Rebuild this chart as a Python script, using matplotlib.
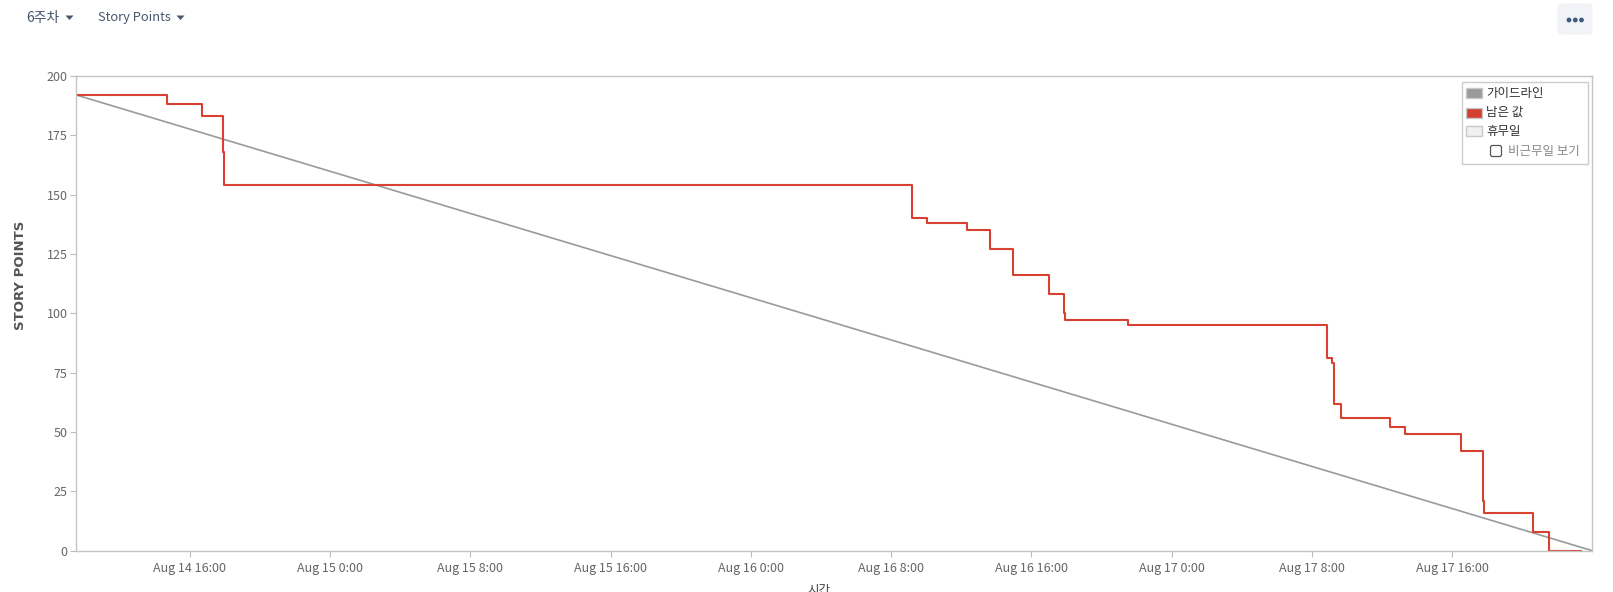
import matplotlib
matplotlib.use('Agg')
import pandas as pd
import matplotlib.pyplot as plt
from matplotlib.patches import Rectangle, FancyBboxPatch, Polygon, Circle
from matplotlib.transforms import IdentityTransform

plt.rcParams['font.family'] = ['Noto Sans CJK KR', 'DejaVu Sans']

W, H = 1613, 592

# remaining story points - value changes (step, post)
remaining_times = [
    '2023-08-14 09:30', '2023-08-14 14:43', '2023-08-14 16:41', '2023-08-14 17:52',
    '2023-08-14 17:55', '2023-08-14 17:58', '2023-08-16 09:10', '2023-08-16 09:13',
    '2023-08-16 10:02', '2023-08-16 12:19', '2023-08-16 13:38', '2023-08-16 14:56',
    '2023-08-16 14:58', '2023-08-16 17:01', '2023-08-16 17:52', '2023-08-16 17:55',
    '2023-08-16 21:32', '2023-08-17 08:53', '2023-08-17 09:10', '2023-08-17 09:17',
    '2023-08-17 09:41', '2023-08-17 12:27', '2023-08-17 13:20', '2023-08-17 16:30',
    '2023-08-17 17:45', '2023-08-17 17:49', '2023-08-17 20:37', '2023-08-17 21:31',
    '2023-08-17 23:23',
]
remaining_values = [
    192, 188, 183, 168,
    160, 154, 148, 140,
    138, 135, 127, 124,
    116, 108, 100, 97,
    95, 81, 79, 62,
    56, 52, 49, 42,
    21, 16, 8, 0,
    0,
]

# guideline from sprint start to sprint end
guide_times = ['2023-08-14 09:30', '2023-08-18 00:00']
guide_values = [192, 0]

y_ticks = [0, 25, 50, 75, 100, 125, 150, 175, 200]
x_ticks = pd.date_range('2023-08-14 16:00', '2023-08-17 16:00', freq='8h')

legend_labels = ['가이드라인', '남은 값', '휴무일']
legend_colors = ['#9a9a9a', '#d43f2f', '#f0f0f0']

RED = '#d8412f'
GRAY = '#9a9a9a'


def fx(x):
    return x / W


def fy(y):
    return 1 - y / H


fig = plt.figure(figsize=(W / 100, H / 100), dpi=100)
ax = fig.add_axes([fx(76), fy(550.7), fx(1592.3) - fx(76), fy(75.9) - fy(550.7)])

ax.plot(pd.to_datetime(guide_times), guide_values, color=GRAY, lw=1.2, solid_capstyle='butt')
ax.plot(pd.to_datetime(remaining_times), remaining_values, color=RED, lw=1.5,
        drawstyle='steps-post')

ax.set_xlim(pd.Timestamp(guide_times[0]), pd.Timestamp(guide_times[-1]))
ax.set_ylim(0, 200)
ax.set_yticks(y_ticks)
ax.set_xticks(x_ticks)
ax.set_xticklabels([f"{t:%b} {t.day} {t.hour}:{t:%M}" for t in x_ticks])

for s in ax.spines.values():
    s.set_color('#c4c4c4')
    s.set_linewidth(1)
ax.tick_params(axis='x', colors='#bbbbbb', labelcolor='#666666', labelsize=9, length=4, pad=4)
ax.tick_params(axis='y', colors='#bbbbbb', labelcolor='#666666', labelsize=9, length=4, pad=2)

# axis titles
fig.text(fx(21), fy(275), 'STORY POINTS', rotation=90, ha='center', va='center',
         fontsize=9.5, fontweight='bold', color='#555555', family='DejaVu Sans')
fig.text(fx(819), fy(584), '시간', ha='center', va='top', fontsize=9, color='#444444')

# legend drawn by hand in pixel space
idt = IdentityTransform()


def rect(x0, y0, x1, y1, **kw):
    r = Rectangle((x0, H - y1), x1 - x0, y1 - y0, transform=idt, **kw)
    fig.add_artist(r)


rect(1462, 82, 1588, 164, facecolor='white', edgecolor='#cccccc', lw=1)
row_y = [93.3, 112.5, 131]
for lab, col, cy in zip(legend_labels, legend_colors, row_y):
    rect(1466, cy - 5, 1482, cy + 5, facecolor=col, edgecolor='#c8c8c8', lw=1)
    fig.text(fx(1486), fy(cy), lab, ha='left', va='center', fontsize=9, color='#333333')

fig.add_artist(FancyBboxPatch((1490.5, H - 156.5), 11, 11, boxstyle='round,pad=0,rounding_size=2',
                              transform=idt, facecolor='white', edgecolor='#555555', lw=0.9))
fig.text(fx(1508), fy(151), '비근무일 보기', ha='left', va='center', fontsize=9, color='#888888')

# header dropdowns
HEAD = '#46566b'
fig.text(fx(26), fy(18), '6주차', ha='left', va='center', fontsize=10, color=HEAD)
fig.text(fx(98), fy(18), 'Story Points', ha='left', va='center', fontsize=9.3, color=HEAD)
for cx in [69.5, 180.5]:
    fig.add_artist(Polygon([(cx - 4, H - 15.5), (cx + 4, H - 15.5), (cx, H - 20)],
                           closed=True, transform=idt, facecolor=HEAD, edgecolor='none'))

# "..." button
fig.add_artist(FancyBboxPatch((1557.5, H - 34.5), 35, 31, boxstyle='round,pad=0,rounding_size=4',
                              transform=idt, facecolor='#f1f3f6', edgecolor='none'))
for cx in [1569, 1575.3, 1581.5]:
    fig.add_artist(Circle((cx, H - 20), 2.4, transform=idt, facecolor='#3e5b7d', edgecolor='none'))

fig.savefig('out.png', dpi=100)
